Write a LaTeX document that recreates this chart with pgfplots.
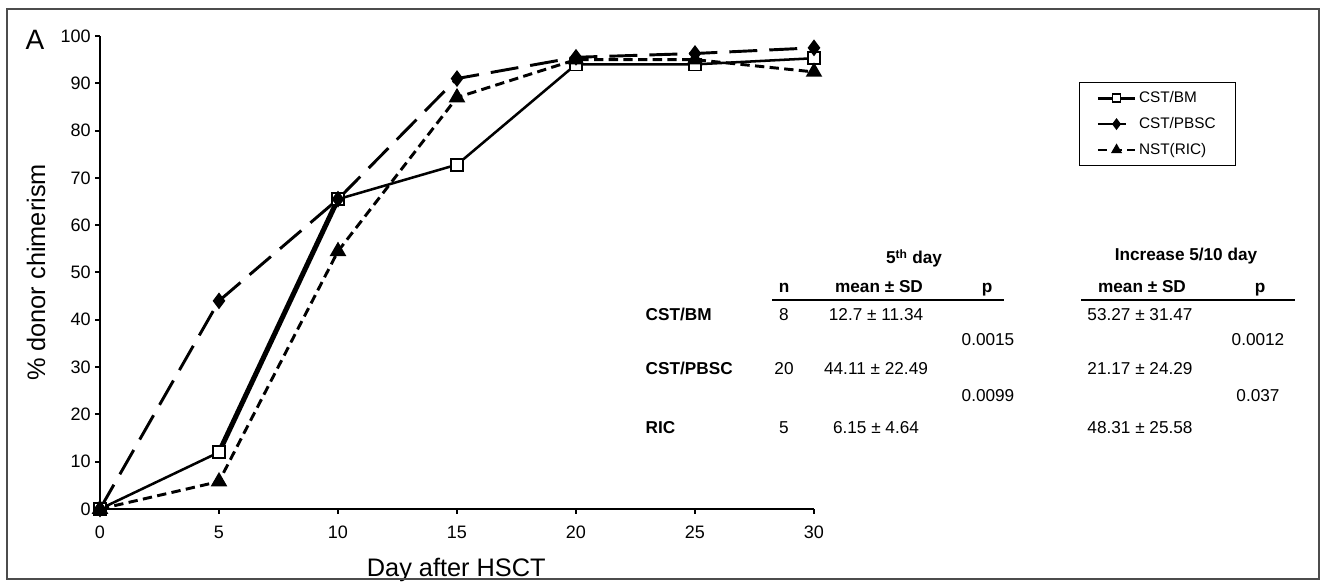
\documentclass[border=0pt]{standalone}
\usepackage{pgfplots}
\pgfplotsset{compat=1.18}
\usepackage{fontspec}
\setmainfont{Liberation Sans}

\newcommand\tf{\fontsize{12.9}{15}\selectfont}

\begin{document}
\begin{tikzpicture}
\begin{axis}[
  at={(0,0)}, anchor=south west,
  scale only axis, width=535.5pt, height=354.75pt,
  xmin=0, xmax=30, ymin=0, ymax=100,
  axis lines=left,
  axis line style={line width=2.2pt, -},
  xtick={0,5,...,30}, ytick={0,10,...,100},
  tick align=outside, major tick length=3.5pt,
  tick style={line width=1.5pt, black},
  ticklabel style={font=\fontsize{13.5}{15}\selectfont},
  xticklabel style={yshift=-6pt},
  /pgf/number format/assume math mode=true,
  xlabel={Day after HSCT}, ylabel={\% donor chimerism},
  label style={font=\fontsize{19}{22}\selectfont},
  xlabel style={at={(axis description cs:0.499,-0.129)}, anchor=center},
  ylabel style={at={(axis description cs:-0.0896,0.5)}, anchor=center},
  clip=false,
  legend style={at={(axis description cs:1.371,0.903)}, anchor=north west,
    draw=black, line width=0.8pt, font=\fontsize{11.5}{13}\selectfont,
    inner xsep=13pt, inner ysep=5pt, row sep=5.5pt},
  legend cell align=left,
  legend image code/.code={\draw[mark repeat=2,mark phase=2,#1,mark size=3pt,line width=1.8pt]
    plot coordinates {(0cm,0cm) (0.49cm,0cm) (0.98cm,0cm)};},
]
% heavier stroke of the 5-10 day segment
\addplot[black, line width=3.8pt, forget plot] coordinates {(5,12) (10,65.5)};

\addplot[black, line width=1.9pt, mark=square*,
  mark options={solid, fill=white, line width=1.3pt}, mark size=4.5pt]
  coordinates {(0,0) (5,12) (10,65.5) (15,72.8) (20,94) (25,94) (30,95.3)};
\addlegendentry{CST/BM}

\addplot[black, line width=2.2pt, dash pattern=on 21pt off 9pt,
  mark=diamond*, mark options={solid}, mark size=4.5pt]
  coordinates {(0,0) (5,44) (10,65.5) (15,91) (20,95.5) (25,96.3) (30,97.5)};
\addlegendentry{CST/PBSC}

\addplot[black, line width=2.2pt, dash pattern=on 7pt off 4pt,
  mark=triangle*, mark options={solid}, mark size=5pt]
  coordinates {(0,0) (5,5.8) (10,54.5) (15,87) (20,95) (25,95) (30,92.4)};
\addlegendentry{NST(RIC)}
\end{axis}

% pixel frame: (100,509) of the reference is the axis origin
\begin{scope}[x=0.75pt, y=-0.75pt, shift={(-75pt,381.75pt)}]
  \draw[gray!60!black, line width=1.1pt] (7,9) rectangle (1319,579);
  \node[font=\fontsize{21}{24}\selectfont] at (35,40) {A};

  \node[anchor=base, font=\tf\bfseries] at (914,264) {5\textsuperscript{th} day};
  \node[anchor=base, font=\tf\bfseries] at (1186,261) {Increase 5/10 day};

  \node[anchor=base, font=\tf\bfseries] at (784,293) {n};
  \node[anchor=base, font=\tf\bfseries] at (879,293) {mean ± SD};
  \node[anchor=base, font=\tf\bfseries] at (987,293) {p};
  \node[anchor=base, font=\tf\bfseries] at (1142,293) {mean ± SD};
  \node[anchor=base, font=\tf\bfseries] at (1260,293) {p};
  \draw[line width=1pt] (772,300) -- (1004,300);
  \draw[line width=1pt] (1081,300) -- (1295,300);

  \node[anchor=base west, font=\tf\bfseries] at (641,321) {CST/BM};
  \node[anchor=base west, font=\tf\bfseries] at (641,375) {CST/PBSC};
  \node[anchor=base west, font=\tf\bfseries] at (641,434) {RIC};

  \node[anchor=base, font=\tf] at (784,321) {8};
  \node[anchor=base, font=\tf] at (784,375) {20};
  \node[anchor=base, font=\tf] at (784,434) {5};

  \node[anchor=base, font=\tf] at (876,321) {12.7 ± 11.34};
  \node[anchor=base, font=\tf] at (876,375) {44.11 ± 22.49};
  \node[anchor=base, font=\tf] at (876,434) {6.15 ± 4.64};

  \node[anchor=base, font=\tf] at (988,346) {0.0015};
  \node[anchor=base, font=\tf] at (988,402) {0.0099};

  \node[anchor=base, font=\tf] at (1140,321) {53.27 ± 31.47};
  \node[anchor=base, font=\tf] at (1140,375) {21.17 ± 24.29};
  \node[anchor=base, font=\tf] at (1140,434) {48.31 ± 25.58};

  \node[anchor=base, font=\tf] at (1258,346) {0.0012};
  \node[anchor=base, font=\tf] at (1258,402) {0.037};

  \pgfresetboundingbox
  \path (0,0) rectangle (1325,582);
\end{scope}
\end{tikzpicture}
\end{document}
